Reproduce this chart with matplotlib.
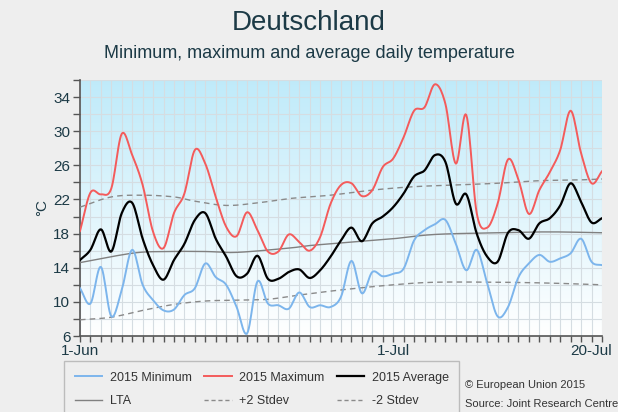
import numpy as np
import matplotlib
matplotlib.use("Agg")
import matplotlib.pyplot as plt
from matplotlib.lines import Line2D

plt.rcParams['font.family'] = ['Liberation Sans', 'DejaVu Sans']

# days since 1 June 2015
days = list(range(51))

t_min = [11.6, 9.8, 14.1, 8.3, 11.4, 16.1, 12.0, 10.2, 9.0, 9.1,
         10.8, 11.6, 14.5, 12.9, 12.0, 9.4, 6.3, 12.4, 9.8, 9.6,
         9.2, 11.1, 9.4, 9.6, 9.4, 10.6, 14.8, 11.0, 13.5, 13.0,
         13.3, 13.9, 17.2, 18.4, 19.1, 19.6, 16.8, 13.7, 16.1, 12.2,
         8.3, 9.4, 12.9, 14.5, 15.5, 14.7, 15.1, 15.7, 17.4, 14.7, 14.3]

t_max = [18.3, 22.8, 22.6, 23.3, 29.7, 27.2, 23.7, 18.2, 16.3, 20.4,
         22.7, 27.8, 26.2, 22.3, 18.8, 17.7, 20.5, 18.4, 15.9, 15.9,
         17.9, 17.0, 16.0, 17.6, 21.5, 23.7, 23.9, 22.4, 23.1, 25.8,
         26.8, 29.3, 32.4, 32.8, 35.5, 33.2, 26.2, 31.9, 20.4, 18.7,
         21.5, 26.7, 24.3, 20.3, 23.1, 25.2, 27.8, 32.4, 27.4, 23.9, 25.3]

t_avg = [14.9, 16.1, 18.5, 15.9, 20.4, 21.6, 17.4, 14.3, 12.6, 14.9,
         16.8, 19.6, 20.4, 17.4, 15.3, 13.0, 13.3, 15.4, 12.7, 12.7,
         13.5, 13.8, 12.8, 13.7, 15.3, 17.2, 18.7, 17.1, 19.2, 20.0,
         21.1, 22.7, 24.7, 25.4, 27.2, 26.4, 21.5, 22.6, 18.0, 15.3,
         14.7, 18.1, 18.4, 17.4, 19.2, 19.8, 21.3, 23.9, 21.7, 19.3, 19.8]

lta_days = [0, 5, 8, 12, 15, 20, 22, 26, 30, 34, 40, 45, 50]
lta = [14.6, 15.7, 15.9, 15.9, 15.8, 16.3, 16.6, 17.0, 17.4, 17.9, 18.1, 18.2, 18.1]

sd_days = [0, 3, 6, 9, 11, 14, 17, 20, 22, 24, 28, 32, 36, 40, 44, 48, 50]
plus2 = [21.1, 22.3, 22.5, 22.3, 21.8, 21.3, 21.6, 22.1, 22.3, 22.5, 23.1, 23.5, 23.7, 23.9, 24.2, 24.3, 24.4]

minus_days = [0, 3, 6, 9, 12, 15, 18, 21, 25, 30, 34, 40, 45, 50]
minus2 = [7.9, 8.2, 9.0, 9.7, 10.1, 10.2, 10.3, 10.8, 11.4, 12.0, 12.3, 12.3, 12.2, 12.0]

xtick_pos = [0, 30, 49]
xtick_labels = ["1-Jun", "1-Jul", "20-Jul"]


def spline(x, y, n=12):
    # Catmull-Rom curve through the points, for drawing only
    x = np.asarray(x, float)
    y = np.asarray(y, float)
    px = np.concatenate([[2 * x[0] - x[1]], x, [2 * x[-1] - x[-2]]])
    py = np.concatenate([[2 * y[0] - y[1]], y, [2 * y[-1] - y[-2]]])
    xs, ys = [], []
    t = np.linspace(0, 1, n, endpoint=False)
    for i in range(1, len(px) - 2):
        for p, out in ((px, xs), (py, ys)):
            p0, p1, p2, p3 = p[i - 1], p[i], p[i + 1], p[i + 2]
            out.extend(0.5 * (2 * p1 + (-p0 + p2) * t
                              + (2 * p0 - 5 * p1 + 4 * p2 - p3) * t ** 2
                              + (-p0 + 3 * p1 - 3 * p2 + p3) * t ** 3))
    xs.append(x[-1])
    ys.append(y[-1])
    return np.array(xs), np.array(ys)


bg = "#eeeeee"
txt = "#1c3a46"
fig = plt.figure(figsize=(6.18, 4.12), dpi=100, facecolor=bg)
ax = fig.add_axes([80 / 618, 1 - 336 / 412, 522 / 618, 256 / 412])

# gradient background
grad = np.linspace(0, 1, 256).reshape(-1, 1)
top = np.array([0.75, 0.92, 0.98])
bot = np.array([1.0, 1.0, 1.0])
img = bot + (top - bot) * grad[..., None]
ax.imshow(img, extent=[0, 50, 6, 36], origin="lower", aspect="auto", zorder=0)

c_min = "#7cb5ec"
c_max = "#f45b5b"
c_lta = "#808080"
c_sd = "#8a8a8a"

ax.plot(*spline(lta_days, lta), color=c_lta, lw=1.0, zorder=3)
ax.plot(*spline(sd_days, plus2), color=c_sd, lw=1.0, ls=(0, (4, 3)), zorder=3)
ax.plot(*spline(minus_days, minus2), color=c_sd, lw=1.0, ls=(0, (4, 3)), zorder=3)
ax.plot(*spline(days, t_min), color=c_min, lw=1.4, zorder=4)
ax.plot(*spline(days, t_max), color=c_max, lw=1.4, zorder=4)
ax.plot(*spline(days, t_avg), color="black", lw=1.6, zorder=5)

ax.set_xlim(0, 50)
ax.set_ylim(6, 36)
ax.set_yticks(np.arange(6, 35, 4))
ax.set_yticks(np.arange(6, 37, 2), minor=True)
ax.set_xticks(xtick_pos)
ax.set_xticklabels(xtick_labels)
ax.set_xticks(range(0, 51), minor=True)

ax.grid(True, which="both", color="#d5dde2", lw=0.8, zorder=1)
ax.set_axisbelow(True)

for s in ["top", "right"]:
    ax.spines[s].set_visible(False)
for s in ["left", "bottom"]:
    ax.spines[s].set_color("#555555")
    ax.spines[s].set_linewidth(1.2)
ax.tick_params(axis="y", which="both", direction="out", length=5, width=1,
               color="#555555", labelsize=11, labelcolor=txt, pad=2)
ax.tick_params(axis="x", which="both", direction="out", length=4, width=1,
               color="#555555", labelsize=11, labelcolor=txt, pad=2)
ax.set_ylabel("°C", fontsize=11, color=txt, labelpad=3)

fig.text(0.5, 1 - 23 / 412, "Deutschland", ha="center", va="center",
         fontsize=20, color=txt)
fig.text(0.5, 1 - 54 / 412, "Minimum, maximum and average daily temperature",
         ha="center", va="center", fontsize=13, color=txt)

handles = [
    Line2D([], [], color=c_min, lw=1.4),
    Line2D([], [], color=c_lta, lw=1.0),
    Line2D([], [], color=c_max, lw=1.4),
    Line2D([], [], color=c_sd, lw=1.0, ls=(0, (3, 2))),
    Line2D([], [], color="black", lw=1.6),
    Line2D([], [], color=c_sd, lw=1.0, ls=(0, (3, 2))),
]
labels = ["2015 Minimum", "LTA", "2015 Maximum", "+2 Stdev", "2015 Average", "-2 Stdev"]
leg = fig.legend(handles, labels, ncol=3, loc="upper left",
                 bbox_to_anchor=(64 / 618, 1 - 361 / 412), fontsize=9,
                 frameon=True, fancybox=False, facecolor=bg, edgecolor="#b0b0b0",
                 handlelength=2.2, columnspacing=1.0, labelspacing=0.95,
                 borderpad=0.85, handletextpad=0.6, borderaxespad=0)
leg.get_frame().set_linewidth(1.0)
for t in leg.get_texts():
    t.set_color("#333333")

fig.text(465 / 618, 1 - 385 / 412, "© European Union 2015", fontsize=8,
         color="#333333", va="center")
fig.text(465 / 618, 1 - 404 / 412, "Source: Joint Research Centre", fontsize=8,
         color="#333333", va="center")

fig.savefig("out.png", dpi=100, facecolor=bg)
